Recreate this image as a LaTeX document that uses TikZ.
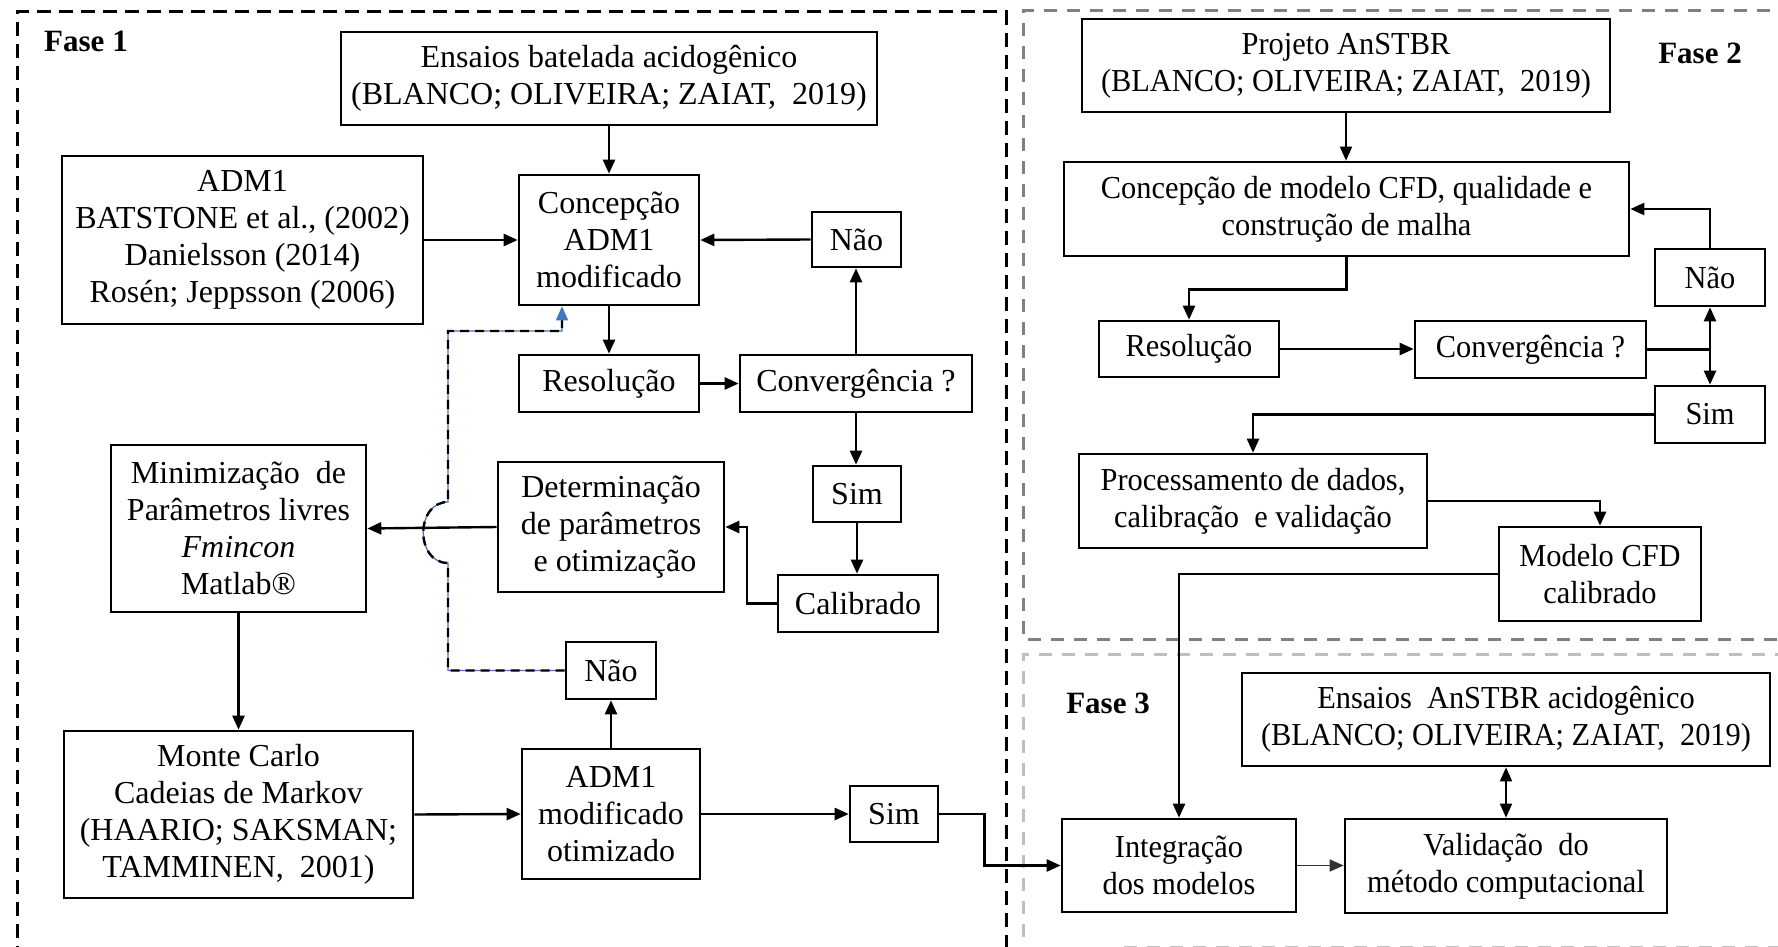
\documentclass[tikz,border=0pt]{standalone}
\usepackage{fontspec}
\setmainfont{Liberation Serif}
\newfontfamily\narrowserif[FakeStretch=0.95]{Liberation Serif}
\usetikzlibrary{arrows.meta,calc}

\begin{document}
\begin{tikzpicture}[x=1pt,y=-1pt,
  box/.style={draw, line width=2.6pt, align=center, inner sep=0pt,
    font=\fontsize{32}{37}\selectfont},
  boxn/.style={box, font=\narrowserif\fontsize{32}{37}\selectfont},
  phase/.style={font=\fontsize{31}{37}\selectfont\bfseries},
  tip/.style={-{Triangle[length=14pt,width=12pt]}},
  conn/.style={line width=2.4pt, tip},
  thin/.style={line width=1.6pt, tip},
  frameA/.style={line width=3pt, dash pattern=on 14pt off 8pt},
  frameB/.style={line width=3pt, dash pattern=on 13pt off 10pt, color=gray2},
  frameC/.style={line width=3pt, dash pattern=on 13pt off 10pt, color=gray3},
]
\definecolor{gray2}{HTML}{808080}
\definecolor{gray3}{HTML}{BFBFBF}
\definecolor{linkblue}{HTML}{4472C4}

\useasboundingbox (0,0) rectangle (1778,947);
\clip (0,0) rectangle (1778,947);

% phase frames
\draw[frameA] (17,960) -- (17,12) -- (1006,12) -- (1006,960);
\draw[frameB] (1800,639) -- (1023,639) -- (1023,11) -- (1800,11);
\draw[frameC] (1023,960) -- (1023,654) -- (1800,654);
\draw[frameC] (1124,947) -- (1800,947);

\node[phase] (f1) at (86,41) {Fase 1};
\node[phase] (f2) at (1700,53) {Fase 2};
\node[phase] (f3) at (1108,703) {Fase 3};

% ---------------- Fase 1 boxes
\node[box, minimum width=536pt, minimum height=93pt] (ens1) at (609,78.5)
  {Ensaios batelada acidogênico\\(BLANCO; OLIVEIRA; ZAIAT,~ 2019)};
\node[box, minimum width=361pt, minimum height=168pt] (adm1) at (242.5,240)
  {ADM1\\BATSTONE et al., (2002)\\Danielsson (2014)\\Rosén; Jeppsson (2006)};
\node[box, minimum width=180pt, minimum height=130pt] (conc1) at (609,240)
  {Concepção\\ADM1\\modificado};
\node[box, minimum width=89pt, minimum height=55pt] (nao1) at (856.5,239.5) {Não};
\node[box, minimum width=180pt, minimum height=57pt] (res1) at (609,383.5) {Resolução};
\node[box, minimum width=232pt, minimum height=57pt] (conv1) at (856,383.5) {Convergência ?};
\node[box, minimum width=88pt, minimum height=56pt] (sim1) at (857,494) {Sim};
\node[box, minimum width=160pt, minimum height=57pt] (cal) at (858,603.5) {Calibrado};
\node[box, minimum width=226pt, minimum height=130pt] (det) at (611,527)
  {Determinação\\de parâmetros\\~e otimização};
\node[box, minimum width=255pt, minimum height=167pt] (min) at (238.5,528.5)
  {Minimização~ de\\Parâmetros livres\\\textit{Fmincon}\\Matlab®};
\node[box, minimum width=349pt, minimum height=167pt] (mc) at (238.5,814.5)
  {Monte Carlo\\Cadeias de Markov\\(HAARIO; SAKSMAN;\\TAMMINEN,~ 2001)};
\node[box, minimum width=178pt, minimum height=130pt] (otim) at (611,814)
  {ADM1\\modificado\\otimizado};
\node[box, minimum width=90pt, minimum height=57pt] (nao2) at (611,670.5) {Não};
\node[box, minimum width=88pt, minimum height=56pt] (sim2) at (894,814) {Sim};

% ---------------- Fase 2 boxes
\node[boxn, minimum width=528pt, minimum height=93pt] (proj) at (1346,65.5)
  {Projeto AnSTBR\\(BLANCO; OLIVEIRA; ZAIAT,~ 2019)};
\node[boxn, minimum width=565pt, minimum height=94pt] (cfd) at (1346.5,209)
  {Concepção de modelo CFD, qualidade e\\construção de malha};
\node[boxn, minimum width=110pt, minimum height=57pt] (nao3) at (1710,277.5) {Não};
\node[boxn, minimum width=180pt, minimum height=56pt] (res2) at (1189,349) {Resolução};
\node[boxn, minimum width=231pt, minimum height=57pt] (conv2) at (1530.5,349.5) {Convergência ?};
\node[boxn, minimum width=110pt, minimum height=57pt] (sim3) at (1710,414.5) {Sim};
\node[boxn, minimum width=348pt, minimum height=94pt] (proc) at (1253,501)
  {Processamento de dados,\\calibração~ e validação};
\node[boxn, minimum width=202pt, minimum height=94pt] (mod) at (1600,574)
  {Modelo CFD\\calibrado};

% ---------------- Fase 3 boxes
\node[boxn, minimum width=528pt, minimum height=93pt] (ens2) at (1506,719.5)
  {Ensaios~ AnSTBR acidogênico\\(BLANCO; OLIVEIRA; ZAIAT,~ 2019)};
\node[boxn, minimum width=234pt, minimum height=93pt] (integ) at (1179,865.5)
  {Integração\\dos modelos};
\node[boxn, minimum width=322pt, minimum height=94pt] (valid) at (1506,866)
  {Validação~ do\\método computacional};

% ---------------- Fase 1 connectors
\draw[conn] (ens1.south) -- (conc1.north);
\draw[conn] (adm1.east) -- (conc1.west);
\draw[conn] (nao1.west) -- (conc1.east);
\draw[conn] (conc1.south) -- (res1.north);
\draw[conn] (res1.east) -- (conv1.west);
\draw[conn] (conv1.north) -- (conv1.north |- nao1.south);
\draw[conn] (conv1.south) -- (conv1.south |- sim1.north);
\draw[conn] (sim1.south) -- (sim1.south |- cal.north);
\draw[conn] (cal.west) -- ++(-30,0) |- (det.east);
\draw[conn] (det.west) -- (min.east);
\draw[conn] (min.south) -- (mc.north);
\draw[conn] (mc.east) -- (otim.west);
\draw[conn] (otim.north) -- (nao2.south);
\draw[conn] (otim.east) -- (sim2.west);
\draw[conn] (sim2.east) -- ++(45,0) |- (integ.west);

% dashed feedback loop, hopping over the horizontal arrow
\coordinate (lpA) at (448,670.5);
\coordinate (lpB) at (448,563);
\coordinate (lpC) at (448,502);
\coordinate (lpD) at (448,331);
\coordinate (lpE) at (562,331);
\draw[linkblue, line width=1.3pt, -{Triangle[length=14pt,width=12pt]}]
  (nao2.west) -- (lpA) -- (lpB) .. controls (415,563) and (415,502) .. (lpC)
  -- (lpD) -- (lpE) -- (lpE |- conc1.south);
\draw[line width=2.4pt, dash pattern=on 9pt off 6pt]
  (nao2.west) -- (lpA) -- (lpB) .. controls (415,563) and (415,502) .. (lpC)
  -- (lpD) -- (lpE) -- ($(lpE |- conc1.south)+(0,14)$);

% ---------------- Fase 2 connectors
\coordinate (j2) at (1710,349.5);
\draw[thin] (proj.south) -- (proj.south |- cfd.north);
\draw[conn] (cfd.south) -- ++(0,32) -| (res2.north);
\draw[conn] (res2.east) -- (res2.east -| conv2.west);
\draw[line width=2.4pt] (conv2.east) -- (j2);
\draw[conn] (j2) -- (nao3.south);
\draw[conn] (j2) -- (sim3.north);
\draw[conn] (nao3.north) |- (cfd.east);
\draw[conn] (sim3.west) -| (proc.north);
\draw[conn] (proc.east) -| (mod.north);
\draw[conn] (mod.west) -| (integ.north);

% ---------------- Fase 3 connectors
\draw[thin, color=black!80] (integ.east) -- (integ.east -| valid.west);
\draw[line width=1.6pt, {Triangle[length=14pt,width=12pt]}-{Triangle[length=14pt,width=12pt]}]
  (ens2.south) -- (ens2.south |- valid.north);
\end{tikzpicture}
\end{document}
